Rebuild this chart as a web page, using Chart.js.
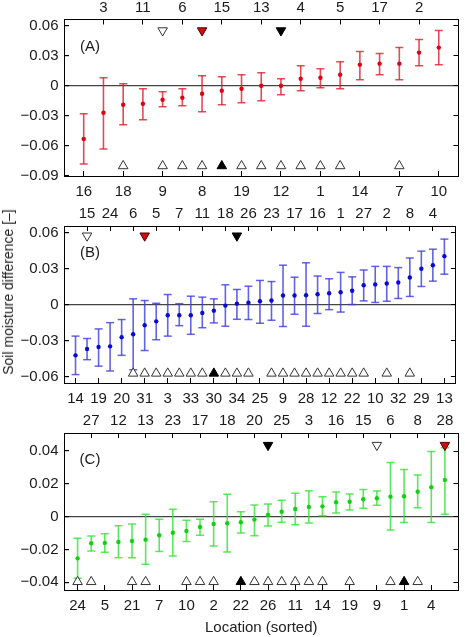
<!DOCTYPE html>
<html><head><meta charset="utf-8">
<script src="https://cdn.jsdelivr.net/npm/chart.js@4/dist/chart.umd.min.js"></script>
<style>
html,body{margin:0;padding:0;background:#fff;}
#wrap{position:relative;width:465px;height:637px;overflow:hidden;background:#fff;}
canvas{position:absolute;left:0;}
#ytitle{position:absolute;left:8px;top:292px;transform:translate(-50%,-50%) rotate(-90deg);font:14px 'Liberation Sans',Arial,sans-serif;color:#222;white-space:nowrap;}
</style></head><body>
<div id="wrap">
<canvas id="cA" width="465" height="200" style="top:0px"></canvas>
<canvas id="cB" width="465" height="210" style="top:200px"></canvas>
<canvas id="cC" width="465" height="227" style="top:410px"></canvas>
<div id="ytitle">Soil moisture difference [–]</div>
</div>
<script>
// ---------- Panel A ----------
const locA  = [16,3,18,11,9,6,8,15,19,13,12,4,1,5,14,17,7,2,10];
const meanA = [-0.053,-0.027,-0.019,-0.018,-0.014,-0.012,-0.008,-0.005,-0.003,0.000,0.000,0.007,0.008,0.011,0.021,0.022,0.022,0.033,0.038];
const lowA  = [-0.078,-0.063,-0.039,-0.034,-0.021,-0.020,-0.026,-0.019,-0.017,-0.015,-0.009,-0.005,-0.002,-0.003,0.006,0.011,0.006,0.020,0.021];
const highA = [-0.028,0.008,0.002,-0.003,-0.006,-0.003,0.010,0.009,0.011,0.013,0.007,0.020,0.017,0.024,0.034,0.032,0.038,0.046,0.055];
const topOpenA = [9], topRedA = [8], topBlackA = [12];
const botOpenA = [18,9,6,8,19,13,12,4,1,5,7], botBlackA = [15];
const yTicksA = [-0.09,-0.06,-0.03,0,0.03,0.06];

// ---------- Panel B ----------
const locB  = [14,15,19,24,20,6,31,5,3,7,33,11,30,18,34,26,25,23,9,17,28,16,12,1,22,27,10,2,32,8,29,4,13];
const meanB = [-0.042,-0.0367,-0.035,-0.0345,-0.027,-0.0245,-0.017,-0.0137,-0.0087,-0.0087,-0.0087,-0.0067,-0.0048,-0.0006,0.001,0.0017,0.003,0.0036,0.0078,0.0078,0.008,0.0088,0.0097,0.0105,0.0117,0.0163,0.017,0.0178,0.0186,0.0228,0.030,0.033,0.0405];
const lowB  = [-0.058,-0.0456,-0.051,-0.055,-0.042,-0.054,-0.038,-0.029,-0.026,-0.0173,-0.0245,-0.019,-0.015,-0.0178,-0.012,-0.0122,-0.0153,-0.0128,-0.018,-0.0078,-0.0178,-0.0072,-0.004,-0.006,0.0003,0.0033,0.002,0.003,0.0053,0.007,0.0153,0.0197,0.0255];
const highB = [-0.026,-0.028,-0.020,-0.0148,-0.0122,0.005,0.0036,0.0013,0.0086,0.001,0.0072,0.0064,0.005,0.0167,0.0128,0.0155,0.0203,0.0194,0.033,0.023,0.035,0.024,0.0217,0.027,0.0233,0.029,0.032,0.032,0.031,0.039,0.0447,0.0463,0.0547];
const topOpenB = [15], topRedB = [31], topBlackB = [34];
const botOpenB = [6,31,5,3,7,33,11,18,34,26,23,9,17,28,16,12,1,22,27,2,8], botBlackB = [30];
const yTicksB = [-0.06,-0.03,0,0.03,0.06];

// ---------- Panel C ----------
const locC  = [24,27,5,12,21,13,7,23,10,17,2,18,22,20,26,25,11,3,14,16,19,15,9,6,1,8,4,28];
const meanC = [-0.0254,-0.0162,-0.016,-0.0154,-0.0148,-0.014,-0.0113,-0.0098,-0.0087,-0.0063,-0.0045,-0.004,-0.0034,-0.0018,0.001,0.003,0.0047,0.0059,0.0063,0.0088,0.0091,0.0106,0.0112,0.0122,0.0124,0.0152,0.018,0.0224];
const lowC  = [-0.0375,-0.021,-0.0217,-0.025,-0.025,-0.029,-0.0213,-0.024,-0.0152,-0.0113,-0.0179,-0.0215,-0.0099,-0.0116,-0.0057,-0.0034,-0.005,-0.0038,0.0006,0.0023,0.004,0.0051,0.0069,-0.0081,-0.0036,0.0055,-0.0036,0.0015];
const highC = [-0.0132,-0.0118,-0.0104,-0.0055,-0.0045,0.0015,-0.0016,0.0045,-0.0022,-0.0016,0.0091,0.0137,0.003,0.0071,0.0077,0.01,0.0142,0.0158,0.0122,0.015,0.0138,0.0165,0.0157,0.033,0.0287,0.0254,0.0397,0.042];
const topOpenC = [9], topRedC = [28], topBlackC = [26];
const botOpenC = [24,27,21,13,10,17,2,20,26,25,11,3,14,19,6,8], botBlackC = [22,1];
const yTicksC = [-0.04,-0.02,0,0.02,0.04];

const FONT = "'Liberation Sans', Arial, sans-serif";
const TXT = '#1a1a1a';

const panelLabel = {
  id: 'panelLabel',
  beforeDatasetsDraw(chart, args, o) {
    const {ctx, chartArea: a} = chart;
    ctx.save();
    ctx.font = '15px ' + FONT;
    ctx.fillStyle = TXT;
    ctx.textAlign = 'center';
    ctx.textBaseline = 'middle';
    ctx.fillText(o.text, a.left + 26, a.top + 27);
    ctx.restore();
  }
};

function fmtY(v) {
  if (Math.abs(v) < 1e-12) return '0';
  return (v < 0 ? '\u2212' : '') + Math.abs(v).toFixed(2);
}

function makePanel(id, p) {
  const n = p.loc.length;
  const idx = l => p.loc.indexOf(l);
  const pts = arr => arr.map((v, i) => ({x: i, y: v}));
  const stems = [];
  p.low.forEach((lo, i) => { stems.push({x: i, y: lo}, {x: i, y: p.high[i]}, {x: i, y: null}); });
  const caps = pts(p.low).concat(pts(p.high));
  const mk = (locs, y) => locs.map(l => ({x: idx(l), y: y}));
  const tickFont = {family: FONT, size: 15};
  const tri = (data, rot, fill, stroke) => ({
    type: 'scatter', data: data, pointStyle: 'triangle', rotation: rot, pointRadius: 5.5,
    backgroundColor: fill, borderColor: stroke, borderWidth: 1, order: 0
  });
  const datasets = [
    {type: 'line', data: stems, showLine: true, spanGaps: false, borderColor: p.bar, borderWidth: 1.6,
     pointRadius: 0, fill: false, order: 5},
    {type: 'scatter', data: caps, pointStyle: 'line', pointRadius: 4, borderColor: p.bar, borderWidth: 1.5, order: 4},
    {type: 'scatter', data: pts(p.mean), pointStyle: 'circle', pointRadius: 2.2, backgroundColor: p.dot,
     borderColor: p.dot, borderWidth: 0, order: 3},
    tri(mk(p.topOpen, p.yTopMark), 180, '#ffffff', '#333333'),
    tri(mk(p.topRed, p.yTopMark), 180, '#cc1010', '#550000'),
    tri(mk(p.topBlack, p.yTopMark), 180, '#000000', '#000000'),
    tri(mk(p.botOpen, p.yBotMark), 0, '#ffffff', '#333333'),
    tri(mk(p.botBlack, p.yBotMark), 0, '#000000', '#000000')
  ];
  const xCommon = (pos, parity, h, pad) => ({
    type: 'linear', position: pos, min: -1, max: n, offset: false,
    afterBuildTicks: s => { s.ticks = p.loc.map((l, i) => ({value: i})).filter(t => t.value % 2 === parity); },
    ticks: {callback: v => String(p.loc[v]), font: tickFont, color: TXT, padding: pad, maxRotation: 0, autoSkip: false},
    grid: {drawOnChartArea: false, tickLength: -5, tickColor: '#000', color: '#000'},
    border: {color: '#000', width: 1},
    afterFit: s => { s.height = h; }
  });
  const x = xCommon('bottom', 0, p.hBottom, 12);
  if (p.xTitle) {
    x.title = {display: true, text: p.xTitle, font: {family: FONT, size: 15}, color: '#222', padding: {top: 2, bottom: 0}};
  }
  const yCommon = (pos, w, labels) => ({
    type: 'linear', position: pos, min: p.yMin, max: p.yMax,
    afterBuildTicks: s => { s.ticks = p.yTicks.map(v => ({value: v})); },
    ticks: {callback: labels ? fmtY : () => '', font: tickFont, color: TXT, padding: 10.5},
    grid: pos === 'left'
      ? {drawOnChartArea: true, tickLength: -5, tickColor: '#000', lineWidth: 1.2,
         color: c => (c.tick && Math.abs(c.tick.value) < 1e-12) ? '#444' : 'rgba(0,0,0,0)'}
      : {drawOnChartArea: false, tickLength: -5, tickColor: '#000', color: '#000'},
    border: {color: '#000', width: 1},
    afterFit: s => { s.width = w; }
  });
  return new Chart(document.getElementById(id), {
    type: 'scatter',
    data: {datasets: datasets},
    options: {
      responsive: false, animation: false, events: [], devicePixelRatio: 1,
      layout: {padding: 0},
      plugins: {legend: {display: false}, tooltip: {enabled: false}, panelLabel: {text: p.label}},
      scales: {
        x: x,
        xTop: xCommon('top', 1, p.hTop, 8),
        y: yCommon('left', 64, true),
        yR: yCommon('right', 2, false)
      }
    },
    plugins: [panelLabel]
  });
}

makePanel('cA', {
  loc: locA, mean: meanA, low: lowA, high: highA,
  topOpen: topOpenA, topRed: topRedA, topBlack: topBlackA, botOpen: botOpenA, botBlack: botBlackA,
  yMin: -0.09, yMax: 0.066, yTicks: yTicksA, yTopMark: 0.055, yBotMark: -0.080,
  hTop: 18, hBottom: 24, label: '(A)',
  bar: 'rgba(220,30,45,0.8)', dot: '#e00012'
});
makePanel('cB', {
  loc: locB, mean: meanB, low: lowB, high: highB,
  topOpen: topOpenB, topRed: topRedB, topBlack: topBlackB, botOpen: botOpenB, botBlack: botBlackB,
  yMin: -0.065, yMax: 0.0656, yTicks: yTicksB, yTopMark: 0.0575, yBotMark: -0.057,
  hTop: 26, hBottom: 27, label: '(B)',
  bar: 'rgba(60,60,222,0.8)', dot: '#0a0ad2'
});
makePanel('cC', {
  loc: locC, mean: meanC, low: lowC, high: highC,
  topOpen: topOpenC, topRed: topRedC, topBlack: topBlackC, botOpen: botOpenC, botBlack: botBlackC,
  yMin: -0.0447, yMax: 0.051, yTicks: yTicksC, yTopMark: 0.0436, yBotMark: -0.0397,
  hTop: 23, hBottom: 47, label: '(C)', xTitle: 'Location (sorted)',
  bar: 'rgba(50,228,50,0.8)', dot: '#12d012'
});
</script>
</body></html>
